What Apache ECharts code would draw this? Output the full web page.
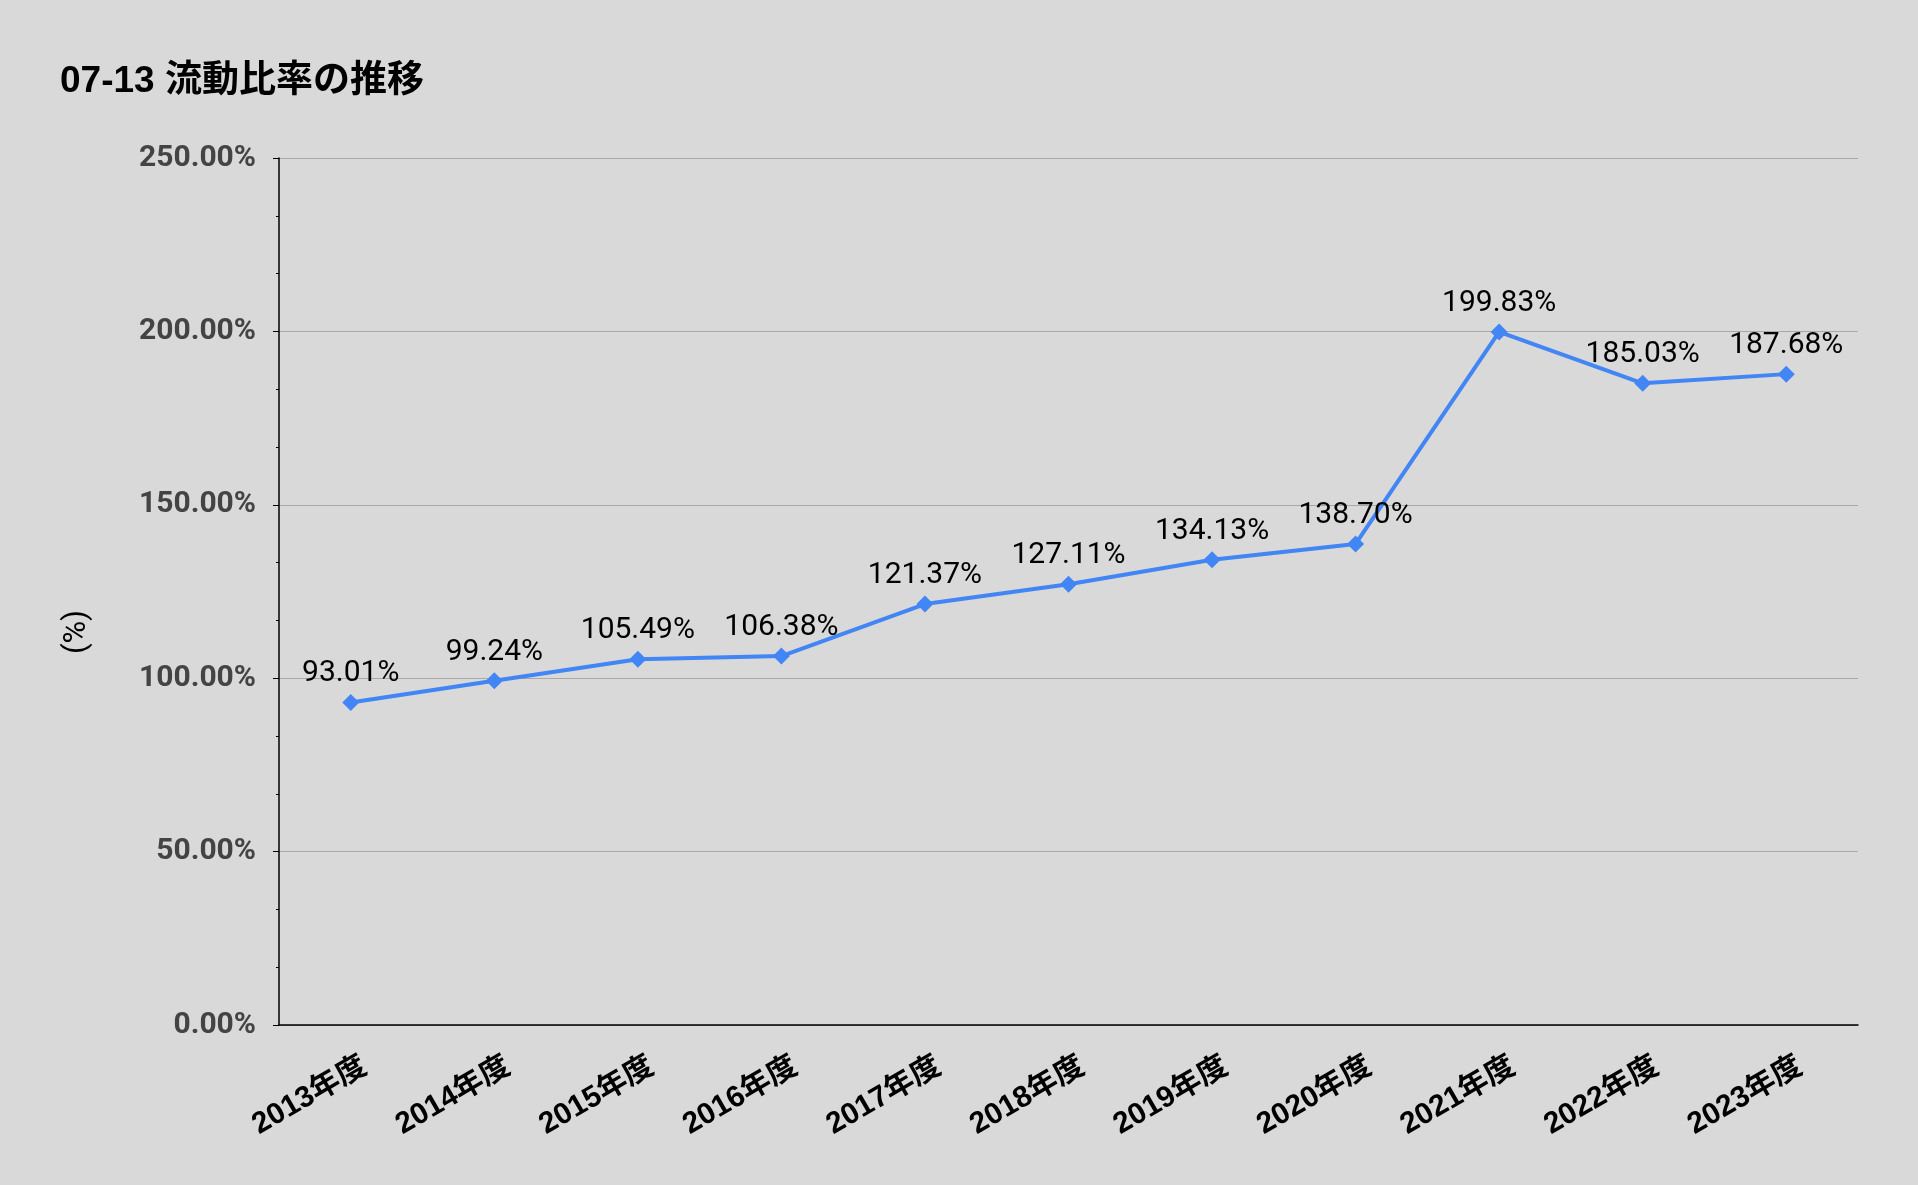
<!DOCTYPE html>
<html>
<head>
<meta charset="utf-8">
<title>07-13 流動比率の推移</title>
<script src="https://cdn.jsdelivr.net/npm/echarts@6/dist/echarts.min.js"></script>
<style>
    html, body { margin: 0; padding: 0; background: #d9d9d9; }
    #chart { width: 1918px; height: 1185px; }
</style>
</head>
<body>
<div id="chart"></div>
<script>
    // 年度
    var categories = ['2013年度', '2014年度', '2015年度', '2016年度', '2017年度', '2018年度',
        '2019年度', '2020年度', '2021年度', '2022年度', '2023年度'];
    // 流動比率 (%)
    var ratioValues = [93.01, 99.24, 105.49, 106.38, 121.37, 127.11, 134.13, 138.70, 199.83, 185.03, 187.68];
    // 縦軸の目盛
    var yTicks = [0, 50, 100, 150, 200, 250];

    var titleText = '07-13 流動比率の推移';
    var yAxisName = '(%)';

    var cjk = "Roboto, 'Noto Sans CJK JP', sans-serif";
    var arialCjk = "'Liberation Sans', 'Noto Sans CJK JP', sans-serif";

    function pct(v) {
        return Number(v).toFixed(2) + '%';
    }

    var myChart = echarts.init(document.getElementById('chart'));
    var option = {
        backgroundColor: '#d9d9d9',
        animation: false,
        title: {
            text: titleText,
            left: 55,
            top: 58,
            textStyle: {
                fontFamily: arialCjk,
                fontSize: 37,
                fontWeight: 'bold',
                color: '#000'
            }
        },
        graphic: [
            {
                type: 'text',
                x: 77,
                y: 632,
                rotation: Math.PI / 2,
                style: {
                    text: yAxisName,
                    fontFamily: cjk,
                    fontSize: 31,
                    fill: '#000',
                    align: 'center',
                    verticalAlign: 'middle'
                }
            }
        ],
        grid: {
            left: 279,
            right: 60,
            top: 158,
            bottom: 160
        },
        xAxis: {
            type: 'category',
            data: categories,
            boundaryGap: true,
            axisLine: {
                lineStyle: { color: '#000', width: 1.5 }
            },
            axisTick: {
                alignWithLabel: true,
                length: 6,
                lineStyle: { color: '#000' }
            },
            axisLabel: {
                rotate: 30,
                margin: 47,
                padding: [0, -16, 0, 0],
                interval: 0,
                fontFamily: arialCjk,
                fontSize: 30,
                fontWeight: 'bold',
                color: '#000'
            }
        },
        yAxis: {
            type: 'value',
            min: yTicks[0],
            max: yTicks[yTicks.length - 1],
            interval: yTicks[1] - yTicks[0],
            axisLine: {
                show: true,
                lineStyle: { color: '#000', width: 1.5 }
            },
            axisTick: {
                show: true,
                length: 6,
                lineStyle: { color: '#000' }
            },
            minorTick: {
                show: true,
                splitNumber: 3,
                length: 3,
                lineStyle: { color: '#000' }
            },
            splitLine: {
                lineStyle: { color: '#a8a8a8', width: 1.2 }
            },
            axisLabel: {
                margin: 23,
                fontFamily: cjk,
                fontSize: 30,
                fontWeight: 'bold',
                color: '#444',
                formatter: function (v) {
                    return pct(v);
                }
            }
        },
        series: [
            {
                name: '流動比率',
                type: 'line',
                data: ratioValues,
                symbol: 'diamond',
                symbolSize: 17,
                itemStyle: { color: '#4285f4' },
                lineStyle: { color: '#4285f4', width: 4 },
                label: {
                    show: true,
                    position: 'top',
                    distance: 5,
                    fontFamily: cjk,
                    fontSize: 30,
                    color: '#000',
                    formatter: function (p) {
                        return pct(p.value);
                    }
                }
            }
        ]
    };
    myChart.setOption(option);
</script>
</body>
</html>
